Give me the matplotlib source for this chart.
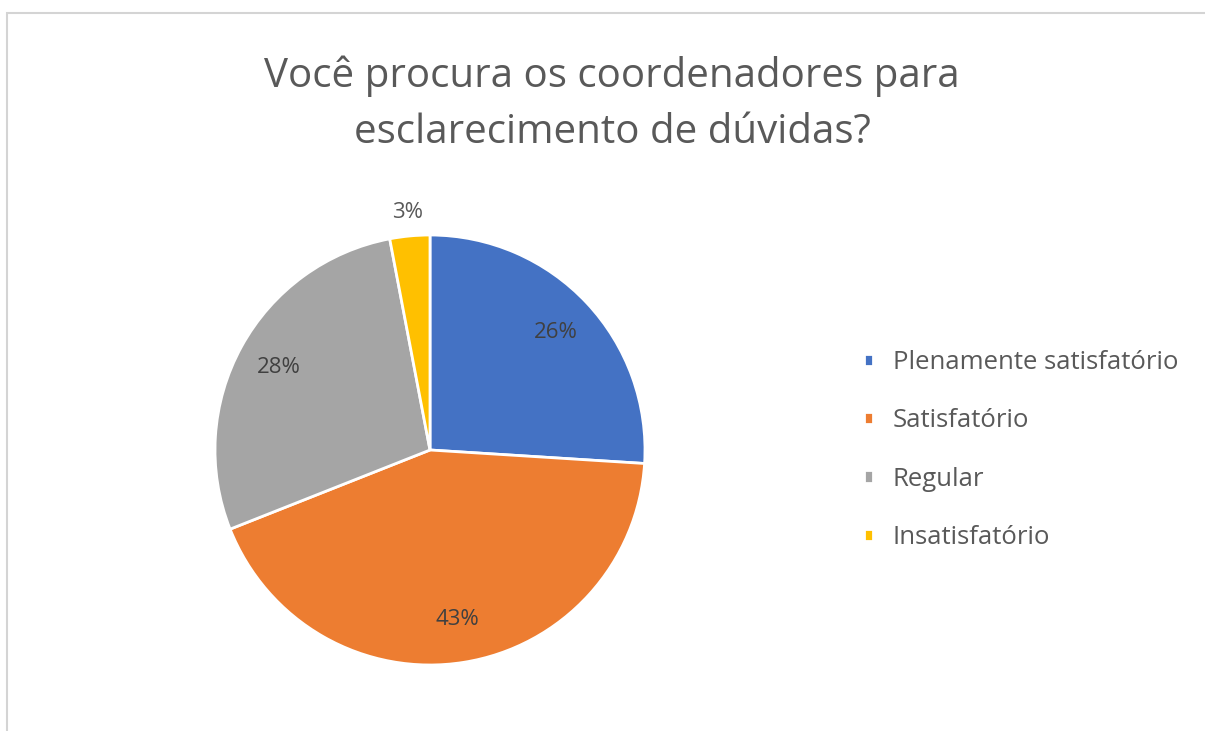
import matplotlib
matplotlib.use('Agg')
import matplotlib.pyplot as plt
import numpy as np
from matplotlib.patches import Rectangle

# Data
categories = ['Plenamente satisfatório', 'Satisfatório', 'Regular', 'Insatisfatório']
values = [26, 43, 28, 3]
colors = ['#4472C4', '#ED7D31', '#A5A5A5', '#FFC000']
title = 'Você procura os coordenadores para\nesclarecimento de dúvidas?'

plt.rcParams['font.family'] = ['Open Sans', 'DejaVu Sans']

W, H = 1205, 731
fig = plt.figure(figsize=(W / 100, H / 100), dpi=100)

# light frame around the chart area
fig.patches.append(Rectangle((7 / W, -0.1), 1.2, (H - 13) / H + 0.1,
                             transform=fig.transFigure, fill=False,
                             edgecolor='#d4d4d4', linewidth=1.5))

# pie axes: centre (430, 450) px, radius 215 px
cx, cy, r = 430, 450, 215
ax = fig.add_axes([(cx - r) / W, (H - cy - r) / H, 2 * r / W, 2 * r / H])
wedges, texts, autotexts = ax.pie(values, colors=colors, startangle=90,
                                  counterclock=False, autopct='%1.0f%%',
                                  pctdistance=0.8,
                                  wedgeprops=dict(edgecolor='white', linewidth=2),
                                  textprops=dict(fontsize=16, color='#404040'))
ax.set_xlim(-1, 1)
ax.set_ylim(-1, 1)
ax.set_aspect('equal')
ax.axis('off')

# small slice gets its label outside
for w, t, v in zip(wedges, autotexts, values):
    if v < 5:
        ang = np.deg2rad((w.theta1 + w.theta2) / 2)
        t.set_position((1.11 * np.cos(ang), 1.11 * np.sin(ang)))
        t.set_color('#595959')

fig.text(612 / W, 1 - 104 / H, title, ha='center', va='center',
         fontsize=29, color='#595959', linespacing=1.5)

leg = fig.legend(wedges, categories, loc='center left',
                 bbox_to_anchor=(841 / W, 1 - 450 / H), frameon=False,
                 fontsize=18.5, handlelength=0.36, handleheight=0.36,
                 handletextpad=0.75, labelspacing=1.3)
for t in leg.get_texts():
    t.set_color('#595959')

fig.savefig('out.png', dpi=100)
